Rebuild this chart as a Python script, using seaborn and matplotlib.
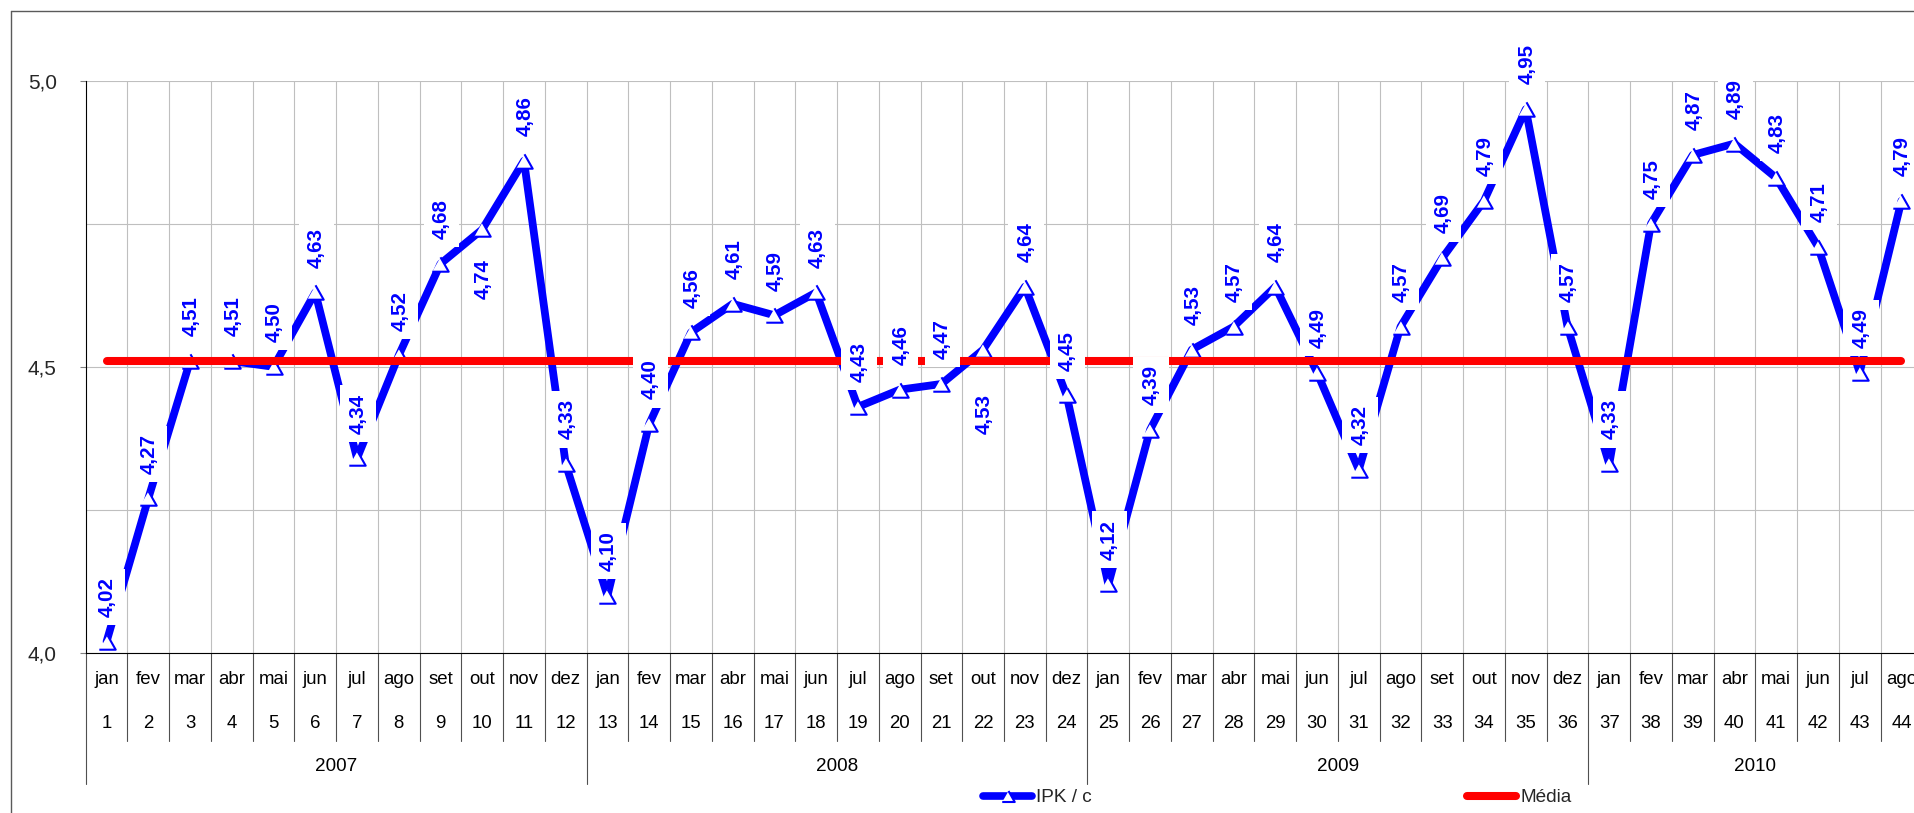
import numpy as np
import pandas as pd
import matplotlib
matplotlib.use("Agg")
import matplotlib.pyplot as plt
import seaborn as sns
from matplotlib.transforms import blended_transform_factory
from matplotlib.lines import Line2D

# ---------------- data ----------------
meses_base = ["jan", "fev", "mar", "abr", "mai", "jun",
              "jul", "ago", "set", "out", "nov", "dez"]
anos = ["2007", "2008", "2009", "2010"]
ipk = [4.02, 4.27, 4.51, 4.51, 4.50, 4.63, 4.34, 4.52, 4.68, 4.74, 4.86, 4.33,
       4.10, 4.40, 4.56, 4.61, 4.59, 4.63, 4.43, 4.46, 4.47, 4.53, 4.64, 4.45,
       4.12, 4.39, 4.53, 4.57, 4.64, 4.49, 4.32, 4.57, 4.69, 4.79, 4.95, 4.57,
       4.33, 4.75, 4.87, 4.89, 4.83, 4.71, 4.49, 4.79]
media_valor = 4.51
media = [media_valor] * len(ipk)
y_ticks = [4.0, 4.5, 5.0]
y_tick_labels = ["4,0", "4,5", "5,0"]
serie_nomes = ["IPK / c", "Média"]

n = len(ipk)
periodo = list(range(1, n + 1))
meses = [meses_base[(p - 1) % 12] for p in periodo]
ano_idx = [(p - 1) // 12 for p in periodo]
df = pd.DataFrame({"periodo": periodo, "ipk": ipk, "media": media,
                   "mes": meses, "ano": [anos[a] for a in ano_idx]})

# ---------------- style ----------------
sns.set_theme(style="white")
plt.rcParams["font.family"] = ["Liberation Sans", "DejaVu Sans"]

W, H = 1914, 813
fig = plt.figure(figsize=(W / 100, H / 100), dpi=100)
fig.patch.set_facecolor("white")
ax_left, ax_right = 85.7, 1922.3
y_top, y_bot = 80.6, 653.0
ax = fig.add_axes([ax_left / W, 1 - y_bot / H, (ax_right - ax_left) / W, (y_bot - y_top) / H])
ax.set_facecolor("white")

BLUE = "#0000FF"
RED = "#FF0000"
GRID = "#BFBFBF"

ax.set_xlim(0.5, n + 0.5)
ax.set_ylim(4.0, 5.0)
ax.set_yticks(y_ticks)
ax.set_yticklabels(y_tick_labels)
ax.set_yticks([4.25, 4.75], minor=True)
ax.grid(axis="y", which="both", color=GRID, lw=0.8)
ax.set_axisbelow(True)
ax.vlines(np.arange(1.5, n + 0.5, 1.0), 4.0, 5.0, color=GRID, lw=0.8, zorder=0.5)
ax.set_xticks([])
for s in ["top", "right"]:
    ax.spines[s].set_visible(False)
for s in ["left", "bottom"]:
    ax.spines[s].set_color("black")
    ax.spines[s].set_linewidth(0.8)
ax.tick_params(axis="y", which="major", length=4.3, width=0.8, color="#808080",
               pad=16.5, labelsize=15, direction="out", left=True)
ax.tick_params(axis="y", which="minor", length=0)

tri = [(-1, -0.88), (1, -0.88), (0, 0.88)]

sns.lineplot(data=df, x="periodo", y="ipk", ax=ax, color=BLUE, lw=5.6,
             marker=tri, markersize=11.8, markerfacecolor="white",
             markeredgecolor=BLUE, markeredgewidth=1.5, errorbar=None,
             sort=False, legend=False, zorder=3, solid_joinstyle="round")
sns.lineplot(data=df, x="periodo", y="media", ax=ax, color=RED, lw=5.8,
             errorbar=None, sort=False, legend=False, zorder=4,
             solid_capstyle="round")
ax.set_xlabel("")
ax.set_ylabel("")

# data labels
below = {10: -21.6, 22: -31.7}
for p, v in zip(periodo, ipk):
    off = below.get(p, 17.8)
    ax.annotate(f"{v:.2f}".replace(".", ","), (p, v), xytext=(0.8, off),
                textcoords="offset points", rotation=90, ha="center",
                va="bottom" if off > 0 else "top", fontsize=14.8,
                fontweight="bold", color=BLUE, zorder=6,
                annotation_clip=False,
                bbox=dict(boxstyle="square,pad=0.4", fc="white", ec="none"))

# multi-level category axis
trans = blended_transform_factory(ax.transData, fig.transFigure)
y_axis_f = 1 - y_bot / H
y_mes = 1 - 679 / H
y_num = 1 - 723.3 / H
y_ano = 1 - 766.7 / H
y_sep = 1 - 740.7 / H
y_sep_ano = 1 - 784.3 / H
for p, m in zip(periodo, meses):
    ax.text(p, y_mes, m, transform=trans, ha="center", va="center", fontsize=13.4,
            color="black", clip_on=False)
    ax.text(p, y_num, str(p), transform=trans, ha="center", va="center",
            fontsize=13.4, color="black", clip_on=False)
for b in np.arange(0.5, n + 1.0, 1.0):
    is_year = (b - 0.5) % 12 == 0
    ax.add_line(Line2D([b, b], [y_axis_f, y_sep_ano if is_year else y_sep],
                       transform=trans, color="#505050", lw=0.8, clip_on=False))
for k, a in enumerate(anos):
    ps = [p for p, ai in zip(periodo, ano_idx) if ai == k]
    cx = (min(ps) - 0.5 + max(ps) + 0.5) / 2
    ax.text(cx, y_ano, a, transform=trans, ha="center", va="center",
            fontsize=13.6, color="black", clip_on=False)

# legend
handles = [
    Line2D([], [], color=BLUE, lw=5.5, marker=tri, markersize=9,
           markerfacecolor="white", markeredgecolor=BLUE, markeredgewidth=1.5,
           solid_capstyle="round"),
    Line2D([], [], color=RED, lw=5.8, solid_capstyle="round"),
]
fig.legend(handles, serie_nomes, loc="center left",
           bbox_to_anchor=(983 / W, 1 - 797.5 / H), ncol=2, frameon=False,
           fontsize=13.7, handlelength=2.6, handletextpad=0.2,
           columnspacing=19.7, borderpad=0, borderaxespad=0, numpoints=1)

# chart-area border (left and top visible)
bx, by = 10.7 / W, 1 - 10.7 / H
fig.add_artist(Line2D([bx, 1.0], [by, by], transform=fig.transFigure,
                      color="#5a5a5a", lw=1.0))
fig.add_artist(Line2D([bx, bx], [0.0, by], transform=fig.transFigure,
                      color="#5a5a5a", lw=1.0))

fig.savefig("out.png", dpi=100)
